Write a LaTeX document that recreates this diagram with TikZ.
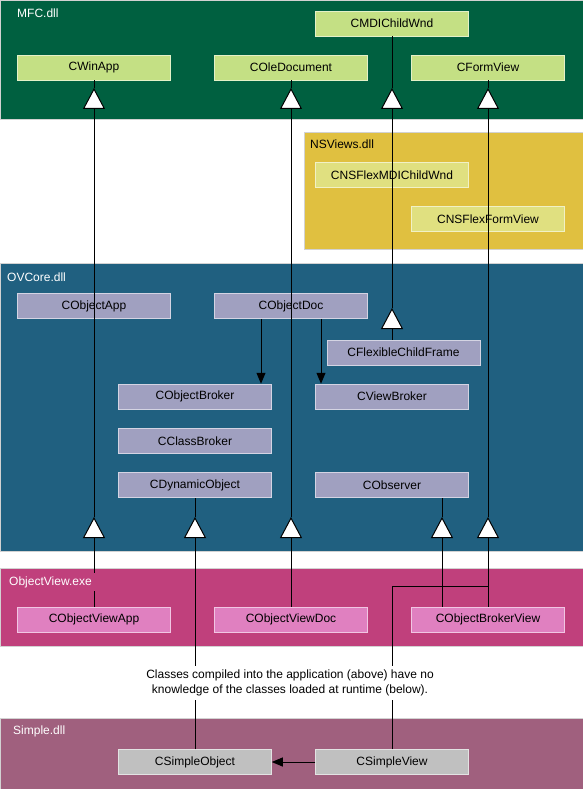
\documentclass[tikz,border=0pt]{standalone}
\usepackage{fontspec}
\setmainfont{Liberation Sans}
\usepackage{tikz}
\usetikzlibrary{arrows.meta}
\usepackage{xcolor}

\definecolor{mfcbg}{HTML}{006040}
\definecolor{mfcbox}{HTML}{C4E084}
\definecolor{nsbg}{HTML}{E0C040}
\definecolor{nsbox}{HTML}{E0E080}
\definecolor{ovbg}{HTML}{206080}
\definecolor{ovbox}{HTML}{A0A0C0}
\definecolor{exebg}{HTML}{C0407C}
\definecolor{exebox}{HTML}{E080C0}
\definecolor{simbg}{HTML}{A0607E}
\definecolor{simbox}{HTML}{C0C0C0}

\begin{document}
\begin{tikzpicture}[x=1pt,y=-1pt,
	font=\fontsize{12}{15}\selectfont,
	cls/.style={minimum width=153pt,minimum height=25pt,inner sep=0pt,draw=white!55!#1,line width=0.5pt,fill=#1},
	region/.style={draw=gray!35,line width=0.5pt,fill=#1},
	rlabel/.style={anchor=west,inner sep=3pt,text=white,fill=#1},
	inherit/.style={line width=1pt,-{Triangle[width=22pt,length=21pt,fill=white,line width=1pt]}},
	uses/.style={line width=1pt,-{Triangle[width=9pt,length=11pt]}},
	link/.style={line width=1pt}]
	\useasboundingbox (0,0) rectangle (583,789);
	
	\draw[region=mfcbg] (0,0) rectangle (583,119);
	\draw[region=nsbg] (304,132) rectangle (583,249);
	\draw[region=ovbg] (0,263) rectangle (583,551);
	\draw[region=exebg] (0,568) rectangle (583,646);
	\draw[region=simbg] (0,718) rectangle (583,789);
	
	\node[cls=mfcbox] (CMDIChildWnd) at (392,23.5) {CMDIChildWnd};
	\node[cls=mfcbox] (CWinApp) at (94,67.5) {CWinApp};
	\node[cls=mfcbox] (COleDocument) at (291,67.5) {COleDocument};
	\node[cls=mfcbox] (CFormView) at (488,67.5) {CFormView};
	
	\node[cls=nsbox] (CNSFlexMDIChildWnd) at (392,175) {CNSFlexMDIChildWnd};
	\node[cls=nsbox] (CNSFlexFormView) at (488,219) {CNSFlexFormView};
	
	\node[cls=ovbox] (CObjectApp) at (94,306) {CObjectApp};
	\node[cls=ovbox] (CObjectDoc) at (291,306) {CObjectDoc};
	\node[cls=ovbox] (CFlexibleChildFrame) at (403.5,352.5) {CFlexibleChildFrame};
	\node[cls=ovbox] (CObjectBroker) at (195,396.5) {CObjectBroker};
	\node[cls=ovbox] (CViewBroker) at (392,396.5) {CViewBroker};
	\node[cls=ovbox] (CClassBroker) at (195,441) {CClassBroker};
	\node[cls=ovbox] (CDynamicObject) at (195,485) {CDynamicObject};
	\node[cls=ovbox] (CObserver) at (392,485) {CObserver};
	
	\node[cls=exebox] (CObjectViewApp) at (94,619.5) {CObjectViewApp};
	\node[cls=exebox] (CObjectViewDoc) at (291,619.5) {CObjectViewDoc};
	\node[cls=exebox] (CObjectBrokerView) at (488,619.5) {CObjectBrokerView};
	
	\node[cls=simbox] (CSimpleObject) at (195,762) {CSimpleObject};
	\node[cls=simbox] (CSimpleView) at (392,762) {CSimpleView};
	
	\coordinate (upApp) at (94,88);
	\coordinate (upDoc) at (291,88);
	\coordinate (upChild) at (392,88);
	\coordinate (upForm) at (488,88);
	\coordinate (upFrame) at (392,308);
	\coordinate (upVApp) at (94,517);
	\coordinate (upDyn) at (195,517);
	\coordinate (upVDoc) at (291,517);
	\coordinate (upObs) at (442,517);
	\coordinate (upBView) at (488,517);
	\coordinate (join) at (488,586);
	\coordinate (docL) at ([xshift=-30pt]CObjectDoc.south);
	\coordinate (docR) at ([xshift=30pt]CObjectDoc.south);
	
	\draw[inherit] (CObjectViewApp) -- (upVApp);
	\draw[inherit] (upVApp) -- (upApp);
	\draw[link] (upApp) -- (CWinApp);
	
	\draw[inherit] (CSimpleObject) -- (upDyn);
	\draw[link] (upDyn) -- (CDynamicObject);
	
	\draw[inherit] (CObjectViewDoc) -- (upVDoc);
	\draw[inherit] (upVDoc) -- (upDoc);
	\draw[link] (upDoc) -- (COleDocument);
	
	\draw[inherit] (CFlexibleChildFrame.north -| upFrame) -- (upFrame);
	\draw[inherit] (upFrame) -- (upChild);
	\draw[link] (upChild) -- (CMDIChildWnd);
	
	\draw[inherit] (CObjectBrokerView.north -| upObs) -- (upObs);
	\draw[link] (upObs) -- (upObs |- CObserver.south);
	
	\draw[inherit] (CObjectBrokerView) -- (upBView);
	\draw[inherit] (upBView) -- (upForm);
	\draw[link] (upForm) -- (CFormView);
	
	\draw[link] (CSimpleView) |- (join);
	
	\draw[uses] (docL) -- (docL |- CObjectBroker.north);
	\draw[uses] (docR) -- (docR |- CViewBroker.north);
	\draw[uses] (CSimpleView) -- (CSimpleObject);
	
	\node[rlabel=mfcbg] (mfc) at (14,13) {MFC.dll};
	\node[rlabel=nsbg,text=black] (nsviews) at (307,144) {NSViews.dll};
	\node[rlabel=ovbg] (ovcore) at (4,277) {OVCore.dll};
	\node[rlabel=exebg] (objectview) at (6,582) {ObjectView.exe};
	\node[rlabel=simbg] (simple) at (10,731) {Simple.dll};
	
	\node[fill=white,align=center,inner xsep=2pt,inner ysep=4pt] (note) at (290,683)
	{Classes compiled into the application (above) have no\\knowledge of the classes loaded at runtime (below).};
\end{tikzpicture}
\end{document}
